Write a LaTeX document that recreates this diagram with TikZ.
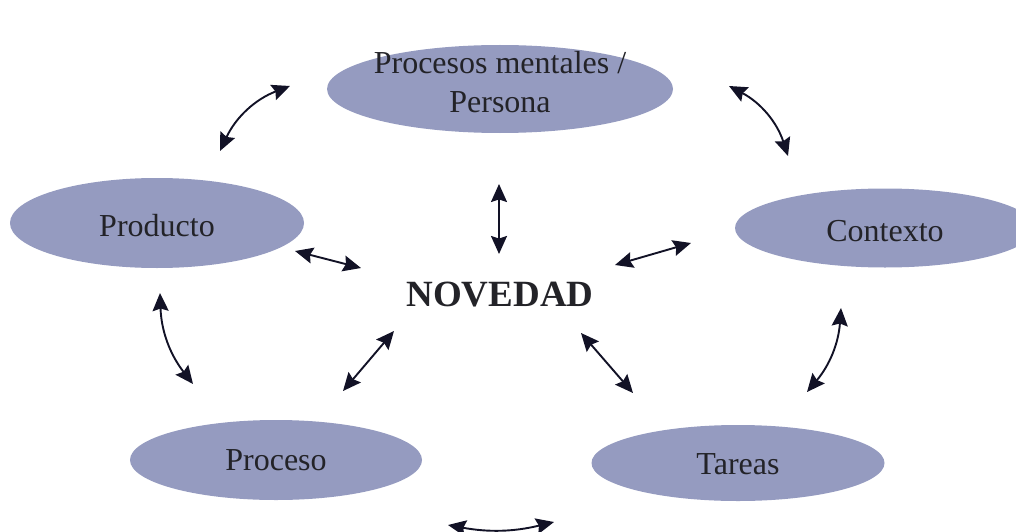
\documentclass[tikz,border=0pt]{standalone}
\usepackage{fontspec}
\setmainfont{Liberation Serif}
\usetikzlibrary{arrows.meta,shapes.geometric}
\definecolor{bubble}{RGB}{149,155,192}
\definecolor{ink}{RGB}{35,35,40}
\definecolor{arrowink}{RGB}{18,18,38}
\tikzset{
  bubble/.style={ellipse, fill=bubble, draw=none, inner sep=0pt},
  bubtext/.style={text=ink, font=\fontsize{32}{39}\selectfont, align=center, inner sep=0pt},
  link/.style={draw=arrowink, line width=1.9pt,
    {Stealth[length=18pt,width=16pt,inset=2.5pt]}-{Stealth[length=18pt,width=16pt,inset=2.5pt]}},
}
\begin{document}
\begin{tikzpicture}[x=1pt,y=-1pt]
  \useasboundingbox (0,0) rectangle (1016,532);
  \clip (0,0) rectangle (1016,532);

  % concept bubbles
  \node[bubble, minimum width=346pt, minimum height=88pt] (persona) at (500,89) {};
  \node[bubble, minimum width=294pt, minimum height=90pt] (producto) at (157,223) {};
  \node[bubble, minimum width=300pt, minimum height=79pt] (contexto) at (885,228) {};
  \node[bubble, minimum width=292pt, minimum height=80pt] (proceso) at (276,460) {};
  \node[bubble, minimum width=293pt, minimum height=76pt] (tareas) at (738,463) {};

  % bubble captions
  \node[bubtext] (tpersona) at ([yshift=7pt]persona.center) {Procesos mentales /\\Persona};
  \node[bubtext] (tproducto) at ([yshift=-3pt]producto.center) {Producto};
  \node[bubtext] (tcontexto) at ([yshift=-3pt]contexto.center) {Contexto};
  \node[bubtext] (tproceso) at (proceso.center) {Proceso};
  \node[bubtext] (ttareas) at ([yshift=-1pt]tareas.center) {Tareas};

  % central concept
  \node[text=ink, font=\bfseries\fontsize{37}{40}\selectfont] (novedad) at (500,295) {NOVEDAD};

  % arrow end points
  \coordinate (a1) at (220,151);  \coordinate (b1) at (290,86);
  \coordinate (a2) at (729,86);   \coordinate (b2) at (788,156);
  \coordinate (a3) at (448,525);  \coordinate (b3) at (554,522);
  \coordinate (a4) at (295,251);  \coordinate (b4) at (361,268);
  \coordinate (a5) at (615,265);  \coordinate (b5) at (691,243);
  \coordinate (a6) at (160,293);  \coordinate (b6) at (193,384);
  \coordinate (a7) at (841,308);  \coordinate (b7) at (807,392);
  \coordinate (a8) at (343,391);  \coordinate (b8) at (394,331);
  \coordinate (a9) at (581,333);  \coordinate (b9) at (633,393);
  \coordinate (a10) at (499,184); \coordinate (b10) at (499,254);

  % links between the outer bubbles
  \draw[link] (a1) to[bend left=22] (b1);
  \draw[link] (a2) to[bend left=22] (b2);
  \draw[link] (a3) to[bend right=12] (b3);
  \draw[link] (a6) to[bend right=18] (b6);
  \draw[link] (a7) to[bend left=18] (b7);

  % links to the centre
  \draw[link] (a4) -- (b4);
  \draw[link] (a5) -- (b5);
  \draw[link] (a8) -- (b8);
  \draw[link] (a9) -- (b9);
  \draw[link] (a10) -- (b10);
\end{tikzpicture}
\end{document}
